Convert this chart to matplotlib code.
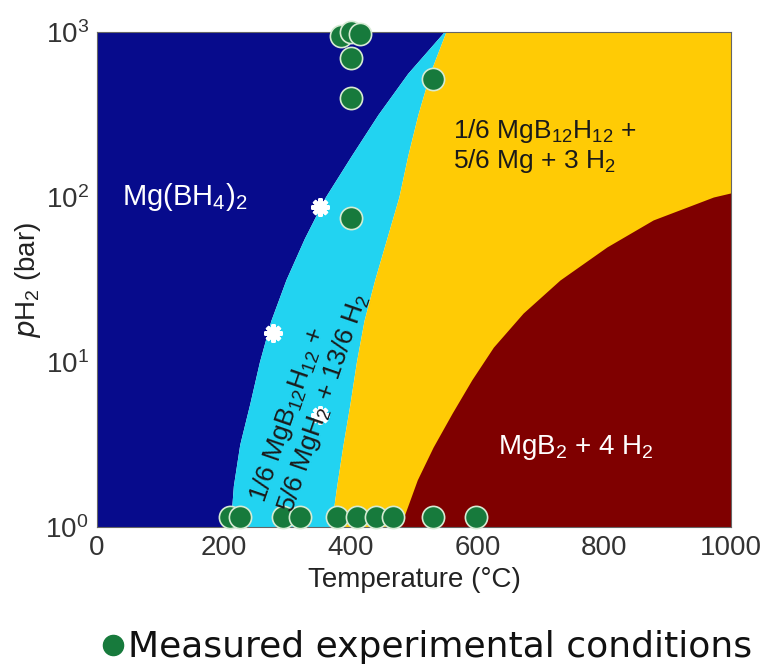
import matplotlib
matplotlib.use("Agg")
import matplotlib.pyplot as plt
from matplotlib.lines import Line2D
import numpy as np

plt.rcParams["font.family"] = ["Liberation Sans", "DejaVu Sans"]
plt.rcParams["mathtext.default"] = "regular"

# Phase boundaries.
# Pressure levels (bar) for the two left boundaries.
p_levels = [1, 1.78, 3.16, 5.62, 10, 17.8, 31.6, 56.2, 100, 178, 316, 562, 1000]
# Mg(BH4)2 / MgB12H12+MgH2 boundary, temperature (C) at each level
t_blue_cyan = [210, 215, 225, 241, 256, 274, 298, 327, 360, 401, 443, 490, 547]
# MgB12H12+MgH2 / MgB12H12+Mg boundary
t_cyan_yellow = [369, 378, 388, 399, 409, 421, 438, 457, 476, 490, 506, 525, 550]
# MgB12H12+Mg / MgB2 boundary, pressure (bar) at each temperature
t_red = [478, 505, 530, 560, 591, 625, 672, 730, 804, 877, 972, 1000]
p_red = [1.0, 1.93, 3.05, 4.9, 7.8, 12.3, 19.8, 31.4, 49.8, 72.6, 100, 106]

# Measured experimental conditions
meas_t = [210, 225, 293, 320, 378, 410, 440, 467, 530, 598,
          385, 400, 415, 400, 400, 400, 530]
meas_p = [1.15, 1.15, 1.15, 1.15, 1.15, 1.15, 1.15, 1.15, 1.15, 1.15,
          940, 1000, 970, 700, 400, 75, 520]

# White stars
star_t = [352, 278, 352]
star_p = [87, 15, 4.8]

c_blue = "#070B8C"
c_cyan = "#22D3F1"
c_yellow = "#FFCB05"
c_red = "#7F0000"
c_green = "#177A3C"

fig = plt.figure(figsize=(7.64, 6.64), dpi=100)
ax = fig.add_axes([0.127, 0.2063, 0.830, 0.7455])
ax.set_yscale("log")

ax.fill_betweenx(p_levels, 0, t_blue_cyan, color=c_blue, lw=0)
ax.fill_betweenx(p_levels, t_blue_cyan, t_cyan_yellow, color=c_cyan, lw=0)
ax.fill_betweenx(p_levels, t_cyan_yellow, 1000, color=c_yellow, lw=0)
ax.fill_between(t_red, 1, p_red, color=c_red, lw=0)

ax.plot(star_t, star_p, linestyle="none", marker=(8, 2, 0), markersize=13,
        markeredgewidth=3, color="white", zorder=3)
ax.plot(meas_t, meas_p, linestyle="none", marker="o", markersize=16,
        markerfacecolor=c_green, markeredgecolor="#D6EBD3", markeredgewidth=1.2,
        clip_on=False, zorder=4)

ax.text(39, 100, "Mg(BH$_4$)$_2$", color="white", fontsize=21, va="center")
ax.text(561, 305, "1/6 MgB$_{12}$H$_{12}$ +\n5/6 Mg + 3 H$_2$", color="#1a1a1a",
        fontsize=19, va="top", ha="left", linespacing=1.1)
ax.text(632, 3.05, "MgB$_2$ + 4 H$_2$", color="white", fontsize=20, va="center")
ax.text(335, 6.1, "1/6 MgB$_{12}$H$_{12}$ +\n5/6 MgH$_2$ + 13/6 H$_2$", color="#1a1a1a",
        fontsize=19, rotation=71, rotation_mode="anchor", ha="center", va="center",
        multialignment="left", linespacing=1.1, zorder=5)

ax.set_xlim(0, 1000)
ax.set_ylim(1, 1000)
ax.set_xticks([0, 200, 400, 600, 800, 1000])
ax.set_yticks([1, 10, 100, 1000])
ax.minorticks_off()
ax.tick_params(labelsize=20, labelcolor="#333333", length=0, pad=6)
ax.set_xlabel("Temperature (°C)", fontsize=20, color="#222222", labelpad=4)
ax.set_ylabel("$\\mathit{p}$H$_2$ (bar)", fontsize=20, color="#222222")
ax.yaxis.set_label_coords(-0.085, 0.5)
for s in ax.spines.values():
    s.set_linewidth(0.8)
    s.set_color("#666666")

fig.add_artist(Line2D([113 / 764], [19 / 664], marker="o", markersize=14.5,
                      color=c_green, linestyle="none"))
fig.text(128 / 764, 7 / 664, "Measured experimental conditions", fontsize=26,
         family=["DejaVu Sans"], va="baseline", ha="left", color="#111111")

fig.savefig("out.png", dpi=100)
